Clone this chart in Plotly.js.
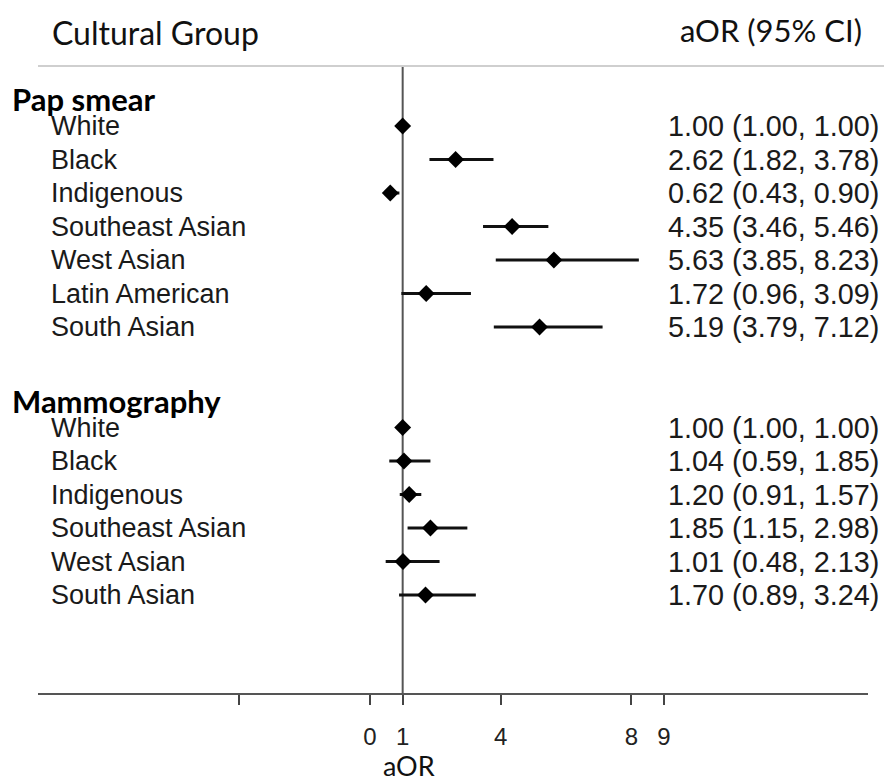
<!DOCTYPE html>
<html>
<head>
<meta charset="utf-8">
<script src="https://cdn.plot.ly/plotly-3.0.1.min.js"></script>
<style>html,body{margin:0;padding:0;background:#fff;}#chart{width:884px;height:784px;}</style>
</head>
<body>
<div id="chart"></div>
<script>
// ---- data ----
const groupNames = ['Pap smear', 'Mammography'];
const papLabels = ['White', 'Black', 'Indigenous', 'Southeast Asian', 'West Asian', 'Latin American', 'South Asian'];
const papOR = [1.00, 2.62, 0.62, 4.35, 5.63, 1.72, 5.19];
const papLo = [1.00, 1.82, 0.43, 3.46, 3.85, 0.96, 3.79];
const papHi = [1.00, 3.78, 0.90, 5.46, 8.23, 3.09, 7.12];
const mamLabels = ['White', 'Black', 'Indigenous', 'Southeast Asian', 'West Asian', 'South Asian'];
const mamOR = [1.00, 1.04, 1.20, 1.85, 1.01, 1.70];
const mamLo = [1.00, 0.59, 0.91, 1.15, 0.48, 0.89];
const mamHi = [1.00, 1.85, 1.57, 2.98, 2.13, 3.24];
const tickVals = [-4, 0, 1, 4, 8, 9];
const tickText = ['', '0', '1', '4', '8', '9'];

// ---- layout helpers ----
const W = 884, H = 784;
const L = 38, R = 16, T = 66, B = 91;
const pw = W - L - R, ph = H - T - B;
const px = v => (v - L) / pw;          // pixel x -> paper x
const py = v => (H - B - v) / ph;      // pixel y -> paper y

const papRows = papLabels.map((_, i) => i + 1);
const mamStart = papLabels.length + 2;
const mamRows = mamLabels.map((_, i) => mamStart + 1 + i);
const headerRows = [0, mamStart];

const labelFont = {family: 'Liberation Sans, Arial, sans-serif', size: 27, color: '#1a1a1a'};
const numFont = {family: 'Liberation Sans, Arial, sans-serif', size: 28.8, color: '#1a1a1a'};
const headFont = {family: 'Lato, sans-serif', size: 32, color: '#111'};
const headFont2 = {family: 'Lato, sans-serif', size: 31, color: '#111'};
const boldFont = {family: 'Lato, sans-serif', size: 31, color: '#000', weight: 'bold'};

function fmt(v) { return v.toFixed(2); }

const traces = [];
function addSeries(or, lo, hi, rows) {
  traces.push({
    type: 'scatter', mode: 'markers',
    x: or, y: rows,
    marker: {symbol: 'diamond', size: 13, color: '#000'},
    error_x: {
      type: 'data', symmetric: false,
      array: or.map((v, i) => hi[i] - v),
      arrayminus: or.map((v, i) => v - lo[i]),
      color: '#111', thickness: 3, width: 0
    },
    hoverinfo: 'skip', showlegend: false, cliponaxis: false
  });
}
addSeries(papOR, papLo, papHi, papRows);
addSeries(mamOR, mamLo, mamHi, mamRows);

const annotations = [];
annotations.push({xref: 'paper', yref: 'paper', x: px(50), y: py(32), xanchor: 'left', yanchor: 'middle',
  text: 'Cultural Group', showarrow: false, font: headFont});
annotations.push({xref: 'paper', yref: 'paper', x: px(864), y: py(30), xanchor: 'right', yanchor: 'middle',
  text: 'aOR (95% CI)', showarrow: false, font: headFont2});
annotations.push({xref: 'x', yref: 'paper', x: 1.18, y: py(765), xanchor: 'center', yanchor: 'middle',
  text: 'aOR', showarrow: false, font: {family: 'Lato, sans-serif', size: 27, color: '#111'}});
groupNames.forEach((g, i) => {
  annotations.push({xref: 'paper', yref: 'y', x: px(10), y: headerRows[i] + 0.2, xanchor: 'left', yanchor: 'middle',
    text: '<b>' + g + '</b>', showarrow: false, font: boldFont});
});
function addRows(labels, or, lo, hi, rows) {
  labels.forEach((lab, i) => {
    annotations.push({xref: 'paper', yref: 'y', x: px(49), y: rows[i], xanchor: 'left', yanchor: 'middle',
      text: lab, showarrow: false, font: labelFont});
    annotations.push({xref: 'paper', yref: 'y', x: px(881), y: rows[i], xanchor: 'right', yanchor: 'middle',
      text: fmt(or[i]) + ' (' + fmt(lo[i]) + ', ' + fmt(hi[i]) + ')', showarrow: false, font: numFont});
  });
}
addRows(papLabels, papOR, papLo, papHi, papRows);
addRows(mamLabels, mamOR, mamLo, mamHi, mamRows);

const rowPx = 33.5, row0Px = 92.5;
const yTop = (T - row0Px) / rowPx, yBot = (H - B - row0Px) / rowPx;
const x0 = 0, x9 = 9, px0 = 370, px9 = 664;
const unit = (px9 - px0) / (x9 - x0);
const xMin = x0 - (px0 - L) / unit, xMax = x0 + (W - R - px0) / unit;

const layout = {
  width: W, height: H,
  margin: {l: L, r: R, t: T, b: B, pad: 0},
  paper_bgcolor: '#fff', plot_bgcolor: '#fff',
  showlegend: false,
  xaxis: {
    range: [xMin, xMax], fixedrange: true,
    showgrid: false, zeroline: false,
    showline: true, linecolor: '#555', linewidth: 2,
    ticks: 'outside', ticklen: 10, tickwidth: 2, tickcolor: '#444',
    tickvals: tickVals, ticktext: tickText,
    tickfont: {family: 'Liberation Sans, Arial, sans-serif', size: 24, color: '#222'},
    ticklabelstandoff: 11
  },
  yaxis: {range: [yBot, yTop], visible: false, fixedrange: true},
  shapes: [
    {type: 'line', xref: 'paper', yref: 'paper', x0: 0, x1: 1 + R / pw, y0: 1, y1: 1,
      line: {color: '#cfcfcf', width: 2}},
    {type: 'line', xref: 'x', yref: 'paper', x0: 1, x1: 1, y0: 0, y1: 1,
      line: {color: '#555', width: 2}, layer: 'below'}
  ],
  annotations: annotations
};

Plotly.newPlot('chart', traces, layout, {displayModeBar: false, staticPlot: true});
</script>
</body>
</html>
